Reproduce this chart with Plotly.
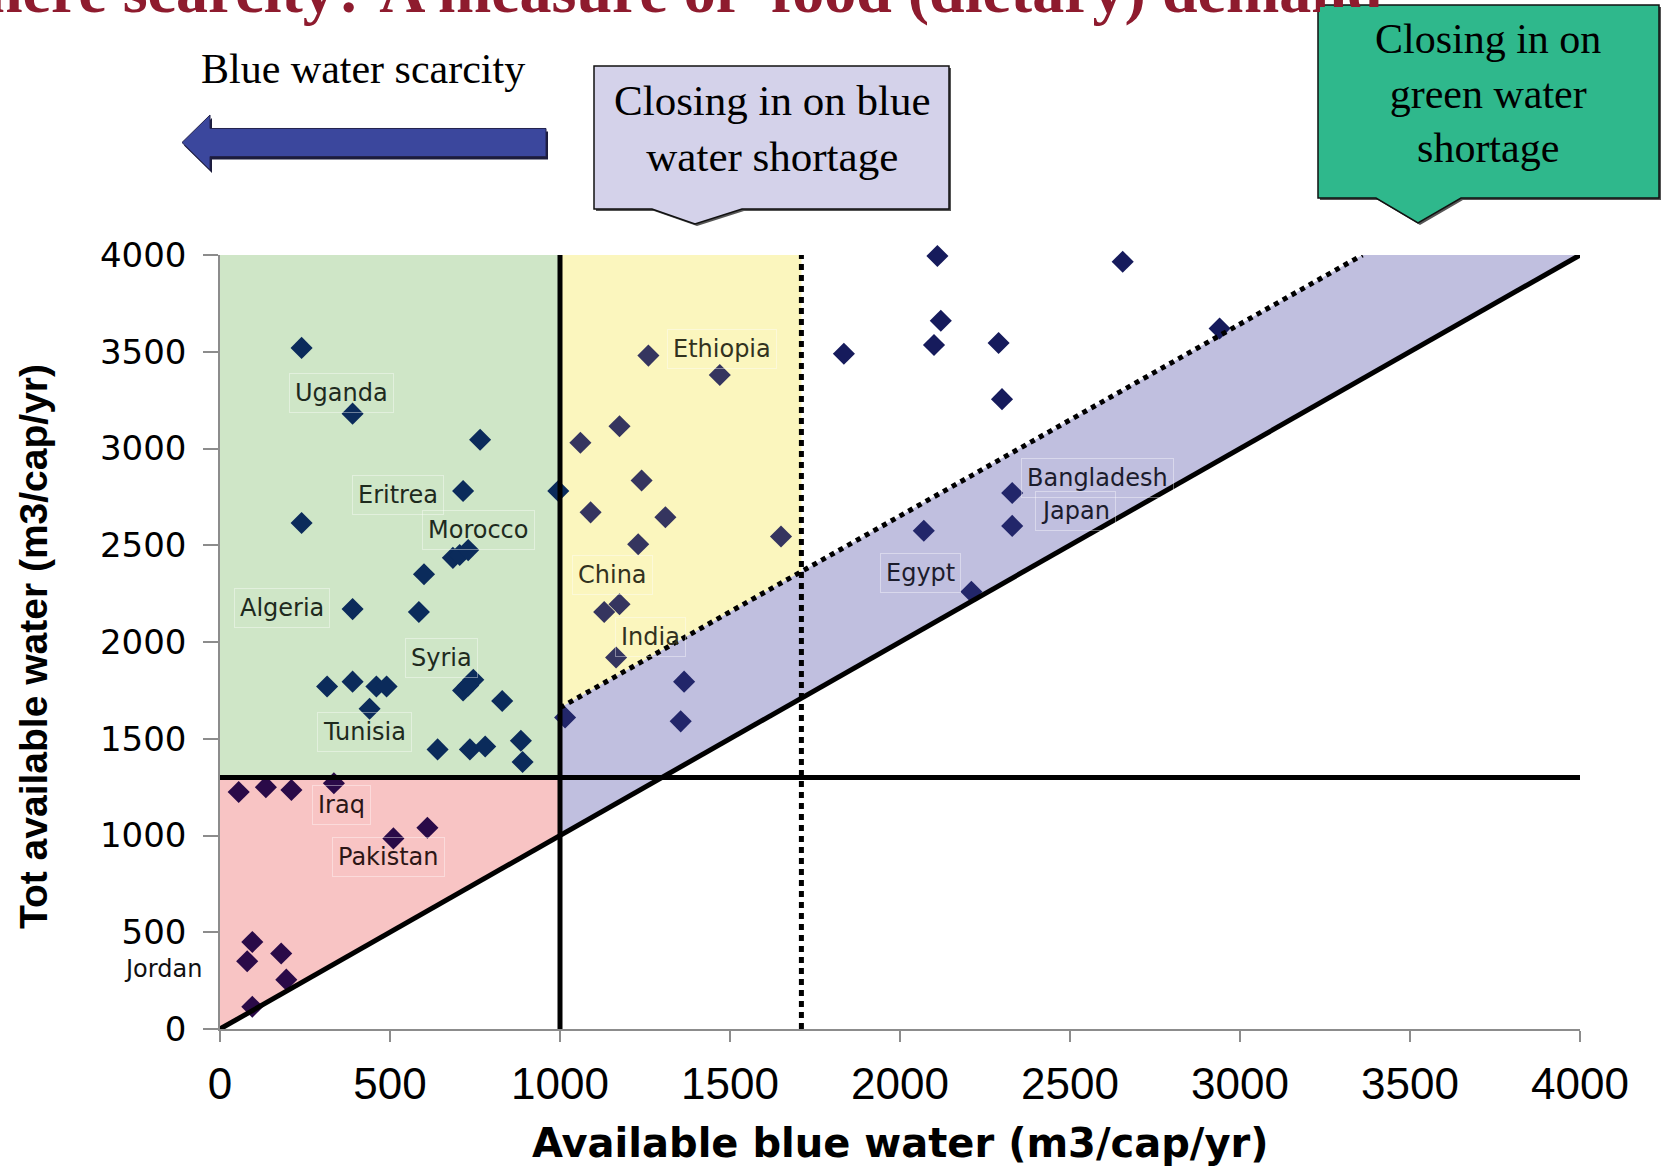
import plotly.graph_objects as go

# ---- data -------------------------------------------------------------
# Available blue water per country (m3/cap/yr)
blue_water = [240, 390, 765, 715, 995, 240, 685, 705, 730, 600, 390, 585,
              315, 390, 460, 490, 440, 745, 715, 730, 830, 885, 640, 735, 780, 890,
              1015, 1260, 1470, 1175, 1060, 1240, 1090, 1310, 1230, 1650, 1130, 1175, 1165,
              1365, 1355, 2070, 2210, 2330, 2330,
              1835, 2110, 2655, 2120, 2100, 2290, 2300, 2940,
              55, 135, 210, 335, 510, 610, 95, 80, 180, 195, 95]
# Total available water (blue + green) per country (m3/cap/yr)
total_water = [3520, 3180, 3045, 2780, 2780, 2615, 2435, 2450, 2475, 2350, 2170, 2155,
               1770, 1795, 1770, 1770, 1655, 1805, 1750, 1775, 1695, 1490, 1445, 1445, 1460, 1380,
               1610, 3480, 3380, 3115, 3030, 2835, 2670, 2645, 2505, 2545, 2155, 2195, 1920,
               1795, 1590, 2575, 2260, 2770, 2600,
               3490, 3995, 3965, 3660, 3535, 3545, 3255, 3620,
               1225, 1250, 1235, 1270, 985, 1040, 450, 350, 390, 255, 115]

# Country name labels and where they sit on the chart (axis units)
label_names = ["Uganda", "Ethiopia", "Eritrea", "Morocco", "Algeria", "China", "India",
               "Syria", "Tunisia", "Bangladesh", "Japan", "Egypt", "Iraq", "Pakistan", "Jordan"]
label_x = [356, 1475, 523, 759, 182, 1155, 1266, 651, 426, 2581, 2516, 2061, 356, 495, -169]
label_y = [3288, 3514, 2760, 2579, 2174, 2346, 2024, 1916, 1536, 2846, 2679, 2358, 1158, 887, 309]

tick_values = [0, 500, 1000, 1500, 2000, 2500, 3000, 3500, 4000]

# Thresholds (m3/cap/yr)
AXIS_MAX = 4000
BLUE_LIMIT = 1000          # blue water scarcity
TOTAL_LIMIT = 1300         # total water requirement for a diet
DIET_BLUE = 1710           # blue water needed for the diet
DIAG_START = (1000, 1660)  # dietary demand line through the blue/green split
DIAG_END = (3360, 4000)


def diet_line(x):
    (x0, y0), (x1, y1) = DIAG_START, DIAG_END
    return y0 + (y1 - y0) * (x - x0) / (x1 - x0)


def zone_color(x, y):
    if x <= BLUE_LIMIT:
        return "#0b2b5b" if y >= TOTAL_LIMIT else "#2a0a48"
    if y >= diet_line(x):
        return "#35355f" if x <= DIET_BLUE else "#161b5c"
    if y >= x:
        return "#22266a"
    return "#161b5c"


def label_color(x, y):
    if x < 0:
        return "#111111"
    if x <= BLUE_LIMIT:
        return "#1e2a1e" if y >= TOTAL_LIMIT else "#2c1616"
    if y >= diet_line(x) and x <= DIET_BLUE:
        return "#32321e"
    return "#1c1c2c"


# ---- page geometry ----------------------------------------------------
W, H = 1662, 1166
ML, MR, MT, MB = 220, 82, 255, 137
PW, PH = W - ML - MR, H - MT - MB


def fx(px):
    return (px - ML) / PW


def fy(py):
    return (H - MB - py) / PH


def page_path(pts, dx=0, dy=0):
    return "M " + " L ".join(f"{fx(x + dx):.5f},{fy(y + dy):.5f}" for x, y in pts) + " Z"


def data_path(pts):
    return "M " + " L ".join(f"{x},{y}" for x, y in pts) + " Z"


fig = go.Figure()

fig.add_trace(go.Scatter(
    x=blue_water, y=total_water, mode="markers",
    marker=dict(symbol="diamond", size=17,
                color=[zone_color(x, y) for x, y in zip(blue_water, total_water)],
                line=dict(width=0)),
    cliponaxis=False, hoverinfo="x+y",
))

shapes = []
# shaded zones
shapes.append(dict(type="path", xref="x", yref="y", layer="below", line=dict(width=0),
                   fillcolor="#cfe6c7",
                   path=data_path([(0, TOTAL_LIMIT), (0, AXIS_MAX), (BLUE_LIMIT, AXIS_MAX),
                                   (BLUE_LIMIT, TOTAL_LIMIT)])))
shapes.append(dict(type="path", xref="x", yref="y", layer="below", line=dict(width=0),
                   fillcolor="#f8c4c4",
                   path=data_path([(0, 0), (0, TOTAL_LIMIT), (BLUE_LIMIT, TOTAL_LIMIT),
                                   (BLUE_LIMIT, BLUE_LIMIT)])))
shapes.append(dict(type="path", xref="x", yref="y", layer="below", line=dict(width=0),
                   fillcolor="#fbf6be",
                   path=data_path([(BLUE_LIMIT, diet_line(BLUE_LIMIT)), (BLUE_LIMIT, AXIS_MAX),
                                   (DIET_BLUE, AXIS_MAX), (DIET_BLUE, diet_line(DIET_BLUE))])))
shapes.append(dict(type="path", xref="x", yref="y", layer="below", line=dict(width=0),
                   fillcolor="#c0bfdf",
                   path=data_path([(BLUE_LIMIT, BLUE_LIMIT), (BLUE_LIMIT, diet_line(BLUE_LIMIT)),
                                   DIAG_END, (AXIS_MAX, AXIS_MAX)])))

# threshold lines
solid = dict(color="black", width=5)
dotted = dict(color="black", width=5, dash="5px,5px")
shapes.append(dict(type="line", xref="x", yref="y", layer="above", x0=0, y0=0,
                   x1=AXIS_MAX, y1=AXIS_MAX, line=solid))
shapes.append(dict(type="line", xref="x", yref="y", layer="above", x0=BLUE_LIMIT, y0=0,
                   x1=BLUE_LIMIT, y1=AXIS_MAX, line=solid))
shapes.append(dict(type="line", xref="x", yref="y", layer="above", x0=0, y0=TOTAL_LIMIT,
                   x1=AXIS_MAX, y1=TOTAL_LIMIT, line=solid))
shapes.append(dict(type="line", xref="x", yref="y", layer="above", x0=DIET_BLUE, y0=0,
                   x1=DIET_BLUE, y1=AXIS_MAX, line=dict(color="black", width=5, dash="6px,5px")))
shapes.append(dict(type="line", xref="x", yref="y", layer="above", x0=DIAG_START[0],
                   y0=DIAG_START[1], x1=DIAG_END[0], y1=DIAG_END[1], line=dotted))

# "Blue water scarcity" arrow
arrow = [(182, 142.5), (210, 115), (210, 128.5), (546, 128.5), (546, 156.5),
         (210, 156.5), (210, 170)]
shapes.append(dict(type="path", xref="paper", yref="paper", layer="above",
                   path=page_path(arrow, 2, 3), fillcolor="#1c1c3c", line=dict(width=0)))
shapes.append(dict(type="path", xref="paper", yref="paper", layer="above",
                   path=page_path(arrow), fillcolor="#3b479d",
                   line=dict(color="#23234d", width=1)))

# call-out boxes
blue_box = [(594, 66), (949, 66), (949, 209), (742, 209), (695, 224), (652, 209), (594, 209)]
green_box = [(1318, 5), (1659, 5), (1659, 198), (1461, 198), (1418, 223), (1376, 198),
             (1318, 198)]
for pts, fill in ((blue_box, "#d4d2ea"), (green_box, "#2fb88c")):
    shapes.append(dict(type="path", xref="paper", yref="paper", layer="above",
                       path=page_path(pts, 2, 2), fillcolor="#555555", line=dict(width=0)))
    shapes.append(dict(type="path", xref="paper", yref="paper", layer="above",
                       path=page_path(pts), fillcolor=fill,
                       line=dict(color="#111111", width=1.5)))

annotations = []
serif = "Liberation Serif"
annotations.append(dict(
    xref="paper", yref="paper", x=fx(1402), y=fy(28), xanchor="right", yanchor="bottom",
    text="<b>Where scarcity? A measure of 'food (dietary) demand'</b>", showarrow=False,
    font=dict(family=serif, size=64, color="#8e1b2e")))
# green call-out face (sits over the headline)
annotations.append(dict(
    xref="paper", yref="paper", x=fx(1488.5), y=fy(101.5), xanchor="center",
    yanchor="middle", text="\u00a0", showarrow=False, width=337, height=189,
    bgcolor="#2fb88c", borderwidth=0, borderpad=0))
annotations.append(dict(
    xref="paper", yref="paper", x=fx(1488), y=fy(93), xanchor="center", yanchor="middle",
    text="Closing in on<br>green water<br>shortage", showarrow=False,
    font=dict(family=serif, size=42, color="black")))
annotations.append(dict(
    xref="paper", yref="paper", x=fx(772), y=fy(129), xanchor="center", yanchor="middle",
    text="Closing in on blue<br>water shortage", showarrow=False,
    font=dict(family=serif, size=43, color="black")))
annotations.append(dict(
    xref="paper", yref="paper", x=fx(363), y=fy(69), xanchor="center", yanchor="middle",
    text="Blue water scarcity", showarrow=False,
    font=dict(family=serif, size=42, color="black")))

# country labels (placed in axis units, mapped onto the plot area)
for name, lx, ly in zip(label_names, label_x, label_y):
    annotations.append(dict(
        xref="paper", yref="paper", x=lx / AXIS_MAX, y=ly / AXIS_MAX, text=name,
        showarrow=False, xanchor="center", yanchor="middle",
        font=dict(family="DejaVu Sans", size=24, color=label_color(lx, ly)),
        bordercolor="rgba(255,255,255,0)" if lx < 0 else "rgba(255,255,255,0.4)",
        borderwidth=1, borderpad=5))

# axis titles
annotations.append(dict(
    xref="paper", yref="paper", x=0.5, y=fy(1143), xanchor="center", yanchor="middle",
    text="<b>Available blue water (m3/cap/yr)</b>", showarrow=False,
    font=dict(family="DejaVu Sans", size=40, color="black")))
annotations.append(dict(
    xref="paper", yref="paper", x=fx(33), y=fy(646), xanchor="center", yanchor="middle",
    text="<b>Tot available water (m3/cap/yr)</b>", showarrow=False, textangle=-90,
    font=dict(family="Liberation Sans", size=39, color="black")))

fig.update_layout(
    width=W, height=H,
    margin=dict(l=ML, r=MR, t=MT, b=MB),
    paper_bgcolor="white", plot_bgcolor="white",
    showlegend=False,
    shapes=shapes, annotations=annotations,
    xaxis=dict(range=[0, AXIS_MAX], tickmode="array", tickvals=tick_values,
               ticktext=[str(v) for v in tick_values],
               ticks="outside", ticklen=11, tickwidth=1.5, tickcolor="#8c8c8c",
               showline=True, linecolor="#8c8c8c", linewidth=1.5,
               showgrid=False, zeroline=False, ticklabelstandoff=4,
               tickfont=dict(family="Liberation Sans", size=44, color="black")),
    yaxis=dict(range=[0, AXIS_MAX], tickmode="array", tickvals=tick_values,
               ticktext=[str(v) for v in tick_values],
               ticks="outside", ticklen=15, tickwidth=1.5, tickcolor="#8c8c8c",
               showline=True, linecolor="#8c8c8c", linewidth=1.5,
               showgrid=False, zeroline=False, ticklabelstandoff=10,
               tickfont=dict(family="DejaVu Sans", size=34, color="black")),
)

fig.write_html("out.html")
